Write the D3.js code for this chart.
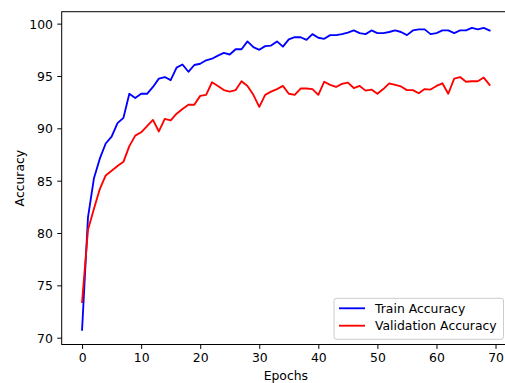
<!DOCTYPE html>
<html>
<head>
<meta charset="utf-8">
<script src="https://cdn.jsdelivr.net/npm/d3@7"></script>
<style>
html,body{margin:0;padding:0;background:#fff;}
svg{display:block;}
text{font-family:"DejaVu Sans",sans-serif;fill:#000;}
</style>
</head>
<body>
<svg id="chart" width="505" height="383"></svg>
<script>
const epochs = d3.range(0, 70);
const trainAccuracy = [
  70.75, 81.5, 85.2, 87.1, 88.55, 89.2, 90.5, 91.0, 93.3, 92.9,
  93.3, 93.3, 93.95, 94.75, 94.9, 94.6, 95.8, 96.1, 95.4, 96.05,
  96.17, 96.5, 96.65, 96.95, 97.2, 97.05, 97.55, 97.55, 98.3, 97.75,
  97.5, 97.85, 97.9, 98.3, 97.8, 98.5, 98.7, 98.7, 98.45, 99.0,
  98.65, 98.55, 98.9, 98.9, 99.0, 99.15, 99.35, 99.1, 99.0, 99.35,
  99.1, 99.1, 99.2, 99.35, 99.2, 98.9, 99.35, 99.45, 99.45, 99.0,
  99.1, 99.35, 99.35, 99.1, 99.35, 99.35, 99.6, 99.45, 99.6, 99.35
];
const validationAccuracy = [
  73.4, 80.3, 82.3, 84.2, 85.5, 85.95, 86.4, 86.8, 88.3, 89.3,
  89.62, 90.2, 90.8, 89.7, 90.9, 90.75, 91.4, 91.85, 92.25, 92.25,
  93.1, 93.2, 94.4, 94.05, 93.65, 93.5, 93.65, 94.5, 94.05, 93.2,
  92.05, 93.2, 93.5, 93.75, 94.05, 93.3, 93.2, 93.8, 93.8, 93.75,
  93.2, 94.45, 94.15, 93.95, 94.25, 94.37, 93.85, 94.05, 93.6, 93.7,
  93.3, 93.75, 94.3, 94.15, 94.0, 93.65, 93.65, 93.35, 93.75, 93.7,
  94.05, 94.3, 93.3, 94.75, 94.9, 94.45, 94.5, 94.5, 94.85, 94.15
];
const xTicks = [0, 10, 20, 30, 40, 50, 60, 70];
const yTicks = [70, 75, 80, 85, 90, 95, 100];
const seriesNames = ["Train Accuracy", "Validation Accuracy"];
const seriesColors = ["#0000ff", "#ff0000"];

const L = 61.7, R = 510, T = 11.7, B = 344.5;
const fs = 12.4;
const svg = d3.select("#chart");

const x = d3.scaleLinear().domain([-3.45, 72.45]).range([L, R]);
const y = d3.scaleLinear().domain([69.35, 101.14]).range([B, T]);

const series = [trainAccuracy, validationAccuracy];
const line = d3.line().x((d, i) => x(epochs[i])).y(d => y(d));

series.forEach((s, k) => {
  svg.append("path").datum(s)
    .attr("d", line)
    .attr("fill", "none")
    .attr("stroke", seriesColors[k])
    .attr("stroke-width", 1.85)
    .attr("stroke-linejoin", "round")
    .attr("stroke-linecap", "square");
});

// axes
const xAxis = d3.axisBottom(x).tickValues(xTicks).tickSize(4.4).tickPadding(4.4).tickFormat(d3.format("d"));
const yAxis = d3.axisLeft(y).tickValues(yTicks).tickSize(4.4).tickPadding(4.4).tickFormat(d3.format("d"));

const gx = svg.append("g").attr("transform", `translate(0,${B})`).call(xAxis);
const gy = svg.append("g").attr("transform", `translate(${L},0)`).call(yAxis);
[gx, gy].forEach(g => {
  g.select(".domain").remove();
  g.selectAll(".tick line").attr("stroke", "#000").attr("stroke-width", 1);
  g.selectAll(".tick text").attr("font-family", "DejaVu Sans").attr("font-size", fs).attr("fill", "#000");
});
gx.selectAll(".tick text").attr("dy", "0.72em");
gy.selectAll(".tick text").attr("dy", "0.36em");

// spines
svg.append("rect").attr("x", L).attr("y", T).attr("width", R - L).attr("height", B - T)
  .attr("fill", "none").attr("stroke", "#000").attr("stroke-width", 1);

// labels
svg.append("text").attr("x", (L + R) / 2).attr("y", 380).attr("text-anchor", "middle")
  .attr("font-size", fs).text("Epochs");
svg.append("text").attr("transform", `translate(24.3,${(T + B) / 2}) rotate(-90)`)
  .attr("text-anchor", "middle").attr("font-size", fs).text("Accuracy");

// legend
const lg = svg.append("g");
lg.append("rect").attr("x", 334).attr("y", 298.3).attr("width", 169.5).attr("height", 41)
  .attr("rx", 2.5).attr("fill", "#fff").attr("fill-opacity", 0.8)
  .attr("stroke", "#cccccc").attr("stroke-width", 1);
seriesNames.forEach((n, k) => {
  const yy = 308.3 + k * 17.4;
  lg.append("line").attr("x1", 339).attr("x2", 365).attr("y1", yy).attr("y2", yy)
    .attr("stroke", seriesColors[k]).attr("stroke-width", 1.85);
  lg.append("text").attr("x", 375).attr("y", yy).attr("dy", "0.36em")
    .attr("font-size", fs).text(n);
});
</script>
</body>
</html>
